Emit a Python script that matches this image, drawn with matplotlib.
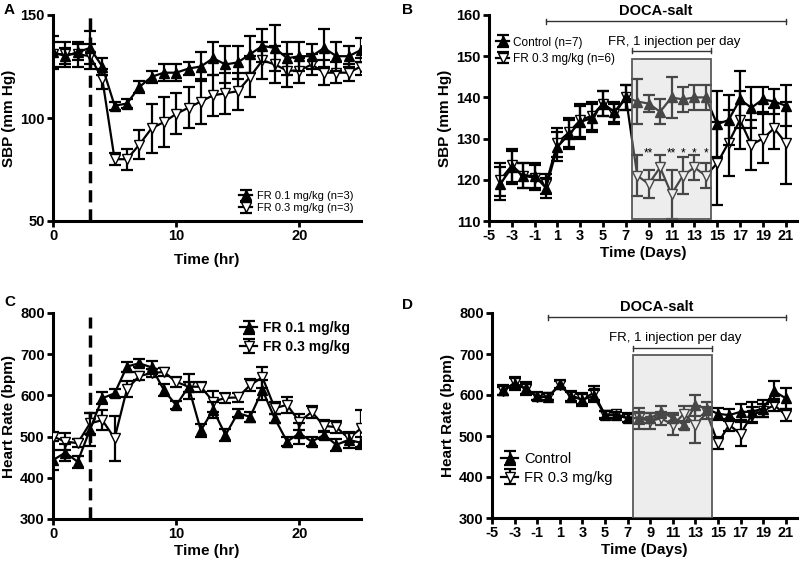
import matplotlib
matplotlib.use("Agg")
import matplotlib.pyplot as plt
from matplotlib.patches import Rectangle

plt.rcParams['font.family'] = ['Liberation Sans', 'DejaVu Sans']
plt.rcParams['axes.unicode_minus'] = False

# --- panel A: SBP, hourly
hrs = list(range(26))
a_fr01 = [132, 130, 132, 134, 125, 106, 107, 115, 120, 122, 122, 124, 125, 129, 126, 127,
          131, 135, 134, 129, 130, 130, 134, 130, 130, 133]
a_fr01_err = [8, 4, 4, 8, 4, 2, 2, 3, 3, 4, 4, 3, 7, 8, 9, 8, 9, 8, 11, 8, 7, 6, 9, 7, 5, 6]
a_fr03 = [131, 131, 131, 130, 119, 80, 80, 87, 95, 98, 102, 105, 108, 111, 112, 113,
          120, 128, 126, 123, 123, 126, 122, 122, 122, 125]
a_fr03_err = [6, 6, 6, 6, 5, 3, 5, 7, 12, 12, 10, 10, 11, 10, 10, 9, 10, 9, 9, 8, 6, 5, 6, 5, 4, 4]

# --- panel B: SBP, days
days = list(range(-4, 22))
b_ctrl = [119, 123, 121, 121, 118, 128, 131, 134, 135, 138.5, 136.5, 140,
          139, 138.5, 136.5, 140, 139.5, 140, 140, 133.5, 134.5, 139.5, 137.5, 139.5, 139, 138]
b_ctrl_err = [4, 4, 3, 3, 2.5, 3.5, 3.5, 4, 3.5, 3, 2.5, 3,
              5.5, 2, 3, 5, 3, 3, 3, 8, 6, 7, 5, 3, 3, 5]
b_fr03 = [120, 123.5, 121, 120.5, 119, 129, 131.5, 134.5, 135.5, 138.5, 136, 140,
          121, 119, 123, 116.5, 121, 123, 121, 124, 129, 134.5, 128.5, 130, 132.5, 129]
b_fr03_err = [4, 4, 3, 3, 2.5, 3.5, 3.5, 4, 3.5, 3, 2.5, 3,
              5, 3.5, 3, 6, 4.5, 3, 3, 10, 8, 7, 6, 6, 5, 10]
b_stars_x = [9, 11, 12, 13, 14]
b_stars = ['**', '**', '*', '*', '*']

# --- panel C: heart rate, hourly
c_fr01 = [443, 461, 439, 517, 593, 605, 670, 678, 668, 613, 576, 621, 515, 565, 504, 557,
          548, 613, 544, 488, 508, 488, 504, 480, 492, 485]
c_fr01_err = [25, 20, 15, 40, 15, 10, 12, 10, 15, 15, 10, 30, 15, 20, 15, 10,
              12, 25, 12, 10, 25, 10, 10, 15, 20, 15]
c_fr03 = [500, 488, 484, 532, 540, 496, 615, 647, 654, 657, 633, 621, 621, 585, 594, 595,
          625, 644, 569, 577, 536, 560, 526, 523, 496, 520]
c_fr03_err = [10, 20, 10, 25, 25, 55, 20, 10, 10, 10, 12, 12, 12, 25, 12, 12,
              15, 25, 15, 20, 20, 15, 15, 15, 10, 45]

# --- panel D: heart rate, days
d_ctrl = [612, 628, 616, 597, 596, 626, 596, 589, 597, 551, 551, 543,
          544, 543, 559, 544, 527, 575, 567, 554, 551, 559, 559, 567, 609, 592]
d_ctrl_err = [12, 15, 15, 10, 8, 10, 12, 15, 15, 10, 8, 10,
              15, 12, 15, 12, 10, 25, 15, 15, 15, 20, 25, 20, 25, 25]
d_fr03 = [610, 630, 614, 596, 595, 625, 598, 590, 605, 552, 553, 545,
          543, 537, 543, 527, 554, 527, 556, 483, 527, 505, 551, 562, 575, 551]
d_fr03_err = [10, 12, 12, 8, 8, 10, 12, 12, 18, 8, 8, 10,
              25, 20, 15, 25, 20, 45, 15, 15, 15, 30, 20, 15, 15, 15]

fig = plt.figure(figsize=(8, 5.62), dpi=100)


def add_axes(l, r, t, b):
    ax = fig.add_axes([l / 800, 1 - b / 562, (r - l) / 800, (b - t) / 562])
    for s in ('top', 'right'):
        ax.spines[s].set_visible(False)
    for s in ('left', 'bottom'):
        ax.spines[s].set_linewidth(2.2)
    ax.tick_params(width=2, length=4, pad=2, labelsize=10.5)
    return ax


def series(ax, x, y, e, filled, label):
    kw = dict(color='black', lw=1.6, ms=7, capsize=4, elinewidth=1.6, capthick=1.6, label=label)
    if filled:
        return ax.errorbar(x, y, yerr=e, marker='^', mfc='black', mec='black', zorder=4, **kw)
    return ax.errorbar(x, y, yerr=e, marker='v', mfc='white', mec='black', zorder=3, **kw)


def labels(ax, xl, yl, xpad=2):
    ax.set_xlabel(xl, fontsize=11, fontweight='bold', labelpad=xpad)
    ax.set_ylabel(yl, fontsize=11, fontweight='bold', labelpad=3)
    for lab in ax.get_xticklabels() + ax.get_yticklabels():
        lab.set_fontweight('bold')


def treatment(ax, box_lo, box_hi, brk_y, fr_y, doca_y, doca_txt_y, tick):
    ax.add_patch(Rectangle((7.5, box_lo), 7, box_hi - box_lo, facecolor=(0.8, 0.8, 0.8, 0.35),
                           edgecolor=(0.35, 0.35, 0.35, 1), lw=1.3, zorder=6))
    ax.plot([7.5, 14.5], [brk_y, brk_y], color='#333333', lw=1, clip_on=False)
    for xx in (7.5, 14.5):
        ax.plot([xx, xx], [brk_y - tick, brk_y + tick], color='#333333', lw=1, clip_on=False)
    ax.text(11.2, fr_y, 'FR, 1 injection per day', ha='center', va='center', fontsize=9.5)
    ax.plot([0, 21], [doca_y, doca_y], color='#333333', lw=1, clip_on=False)
    for xx in (0, 21):
        ax.plot([xx, xx], [doca_y - tick, doca_y + tick], color='#333333', lw=1, clip_on=False)
    ax.text(9.6, doca_txt_y, 'DOCA-salt', ha='center', va='bottom', fontsize=10.5,
            fontweight='bold', clip_on=False)


# A
ax = add_axes(53, 361, 15, 221)
h1 = series(ax, hrs, a_fr01, a_fr01_err, True, 'FR 0.1 mg/kg (n=3)')
h2 = series(ax, hrs, a_fr03, a_fr03_err, False, 'FR 0.3 mg/kg (n=3)')
ax.axvline(3, color='black', lw=2.5, ls=(0, (3.5, 2)), zorder=2)
ax.set_xlim(0, 25)
ax.set_ylim(50, 150)
ax.set_xticks([0, 10, 20])
ax.set_yticks([50, 100, 150])
labels(ax, 'Time (hr)', 'SBP (mm Hg)', xpad=7)
ax.legend(handles=[h1, h2], loc='lower right', frameon=False, fontsize=8, handlelength=1.2,
          handletextpad=0.4, borderaxespad=0.3, labelspacing=0.2)

# B
ax = add_axes(489, 797, 15, 221)
h1 = series(ax, days, b_ctrl, b_ctrl_err, True, 'Control (n=7)')
h2 = series(ax, days, b_fr03, b_fr03_err, False, 'FR 0.3 mg/kg (n=6)')
ax.set_xlim(-5, 22)
ax.set_ylim(110, 160)
ax.set_xticks(range(-5, 22, 2))
ax.set_yticks(range(110, 161, 10))
for xx, s in zip(b_stars_x, b_stars):
    ax.text(xx, 126.5, s, ha='center', va='center', fontsize=8.5, zorder=8)
treatment(ax, 110.5, 149.3, 151.3, 153.5, 158.5, 159.3, 0.6)
labels(ax, 'Time (Days)', 'SBP (mm Hg)')
ax.legend(handles=[h1, h2], loc='upper left', frameon=False, fontsize=8.5, handlelength=1.1,
          handletextpad=0.3, borderaxespad=0.2, labelspacing=0.35, bbox_to_anchor=(0, 0.93))

# C
ax = add_axes(53, 361, 313, 519)
h1 = series(ax, hrs, c_fr01, c_fr01_err, True, 'FR 0.1 mg/kg')
h2 = series(ax, hrs, c_fr03, c_fr03_err, False, 'FR 0.3 mg/kg')
ax.axvline(3, color='black', lw=2.5, ls=(0, (3.5, 2)), ymax=0.98, zorder=2)
ax.set_xlim(0, 25)
ax.set_ylim(300, 800)
ax.set_xticks([0, 10, 20])
ax.set_yticks(range(300, 801, 100))
labels(ax, 'Time (hr)', 'Heart Rate (bpm)')
leg = ax.legend(handles=[h1, h2], loc='upper right', frameon=False, fontsize=10, handlelength=1.2,
                handletextpad=0.4, borderaxespad=0.2, labelspacing=0.3, bbox_to_anchor=(0.99, 1.0))
for t in leg.get_texts():
    t.set_fontweight('bold')

# D
ax = add_axes(492, 797, 313, 518)
h1 = series(ax, days, d_ctrl, d_ctrl_err, True, 'Control')
h2 = series(ax, days, d_fr03, d_fr03_err, False, 'FR 0.3 mg/kg')
ax.set_xlim(-5, 22)
ax.set_ylim(300, 800)
ax.set_xticks(range(-5, 22, 2))
ax.set_yticks(range(300, 801, 100))
treatment(ax, 300, 698, 714, 738, 790, 797, 6)
labels(ax, 'Time (Days)', 'Heart Rate (bpm)')
leg = ax.legend(handles=[h1, h2], loc='lower left', frameon=False, fontsize=10.5, handlelength=1.2,
                handletextpad=0.4, borderaxespad=0.2, labelspacing=0.3, bbox_to_anchor=(0, 0.12))

for lab, x, y in (('A', 4, 3), ('B', 402, 3), ('C', 4, 295), ('D', 402, 298)):
    fig.text(x / 800, 1 - y / 562, lab, fontsize=11, fontweight='bold', va='top')

fig.savefig('out.png', dpi=100)
